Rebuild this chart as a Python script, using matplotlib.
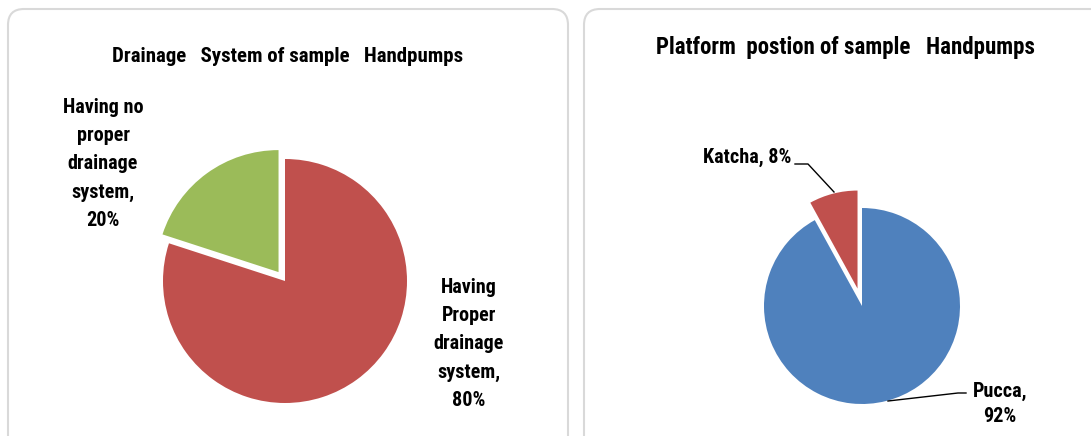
import matplotlib.pyplot as plt
from matplotlib.patches import FancyBboxPatch

# drainage of sample handpumps
drain_labels = ["Having\nProper\ndrainage\nsystem,\n80%", "Having no\nproper\ndrainage\nsystem,\n20%"]
drain_values = [80, 20]
drain_colors = ["#C0504D", "#9BBB59"]

# platform of sample handpumps
platform_labels = ["Pucca,\n92%", "Katcha, 8%"]
platform_values = [92, 8]
platform_colors = ["#4F81BD", "#C0504D"]

W, H = 1091, 436
font = ["Roboto Condensed", "DejaVu Sans"]

fig = plt.figure(figsize=(W / 100, H / 100), dpi=100)
fig.patch.set_facecolor("white")
ax = fig.add_axes([0, 0, 1, 1])

# panel frames
for x0, w in [(8, 560), (584, 530)]:
    ax.add_patch(FancyBboxPatch((x0, -30), w, H - 9 + 30,
                                boxstyle="round,pad=0,rounding_size=16",
                                fc="white", ec="#D9D9D9", lw=1.5, zorder=0))

# explode is in data units here (pixels)
ax.pie(drain_values, colors=drain_colors, startangle=90, counterclock=False,
       explode=[0, 11], center=(285, H - 281), radius=122, frame=True)
ax.pie(platform_values, colors=platform_colors, startangle=90, counterclock=False,
       explode=[0, 18], center=(862, H - 306), radius=98, frame=True)

ax.set_xlim(0, W)
ax.set_ylim(0, H)
ax.set_aspect("equal")
ax.axis("off")

txt = dict(family=font, fontweight="bold", fontsize=14.5, color="black",
           ha="center", va="center", linespacing=1.6)
ax.text(288, H - 57, "Drainage   System of sample   Handpumps", **{**txt, "fontsize": 15})
ax.text(845, H - 48, "Platform  postion of sample   Handpumps", **{**txt, "fontsize": 16.5})

ax.text(103, H - 164, drain_labels[1], **txt)
ax.text(469, H - 344, drain_labels[0], **txt)

ax.text(791, H - 157, platform_labels[1], **{**txt, "ha": "right"})
ax.text(1000, H - 404, platform_labels[0], **{**txt, "linespacing": 1.4})

# leader lines
ax.plot([795, 808, 834], [H - 164, H - 164, H - 192], color="black", lw=1)
ax.plot([888, 958, 966], [H - 401, H - 393, H - 393], color="black", lw=1)

fig.savefig("out.png", dpi=100, facecolor="white")
